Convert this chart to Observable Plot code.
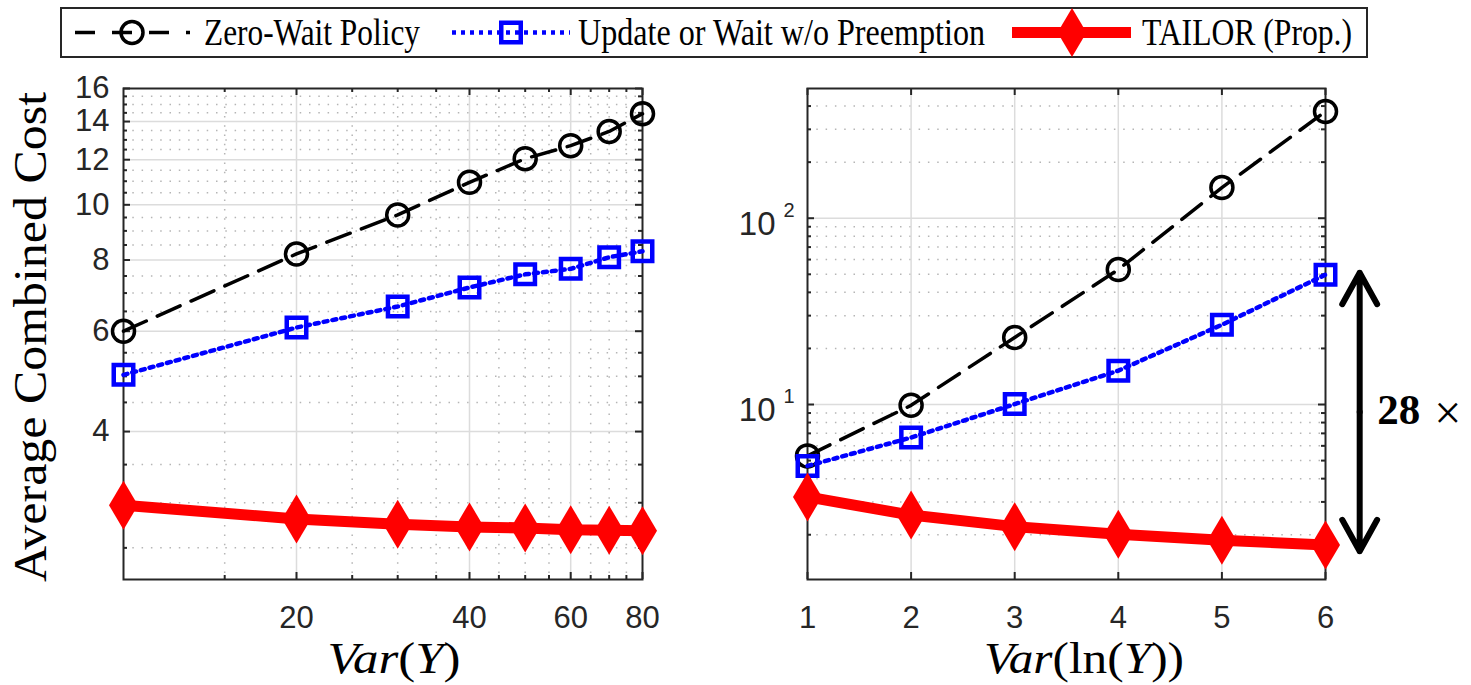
<!DOCTYPE html>
<html><head><meta charset="utf-8">
<script src="https://cdn.jsdelivr.net/npm/d3@7"></script>
<script src="https://cdn.jsdelivr.net/npm/@observablehq/plot@0.6"></script>
<style>
html,body{margin:0;padding:0;background:#fff;}
#wrap{position:relative;width:1471px;height:685px;overflow:hidden;background:#fff;}
#wrap > svg{position:absolute;}
</style></head><body><div id="wrap"></div>
<script>
// ---------- data ----------
const seriesNames = ["Zero-Wait Policy", "Update or Wait w/o Preemption", "TAILOR (Prop.)"];

// left panel: x = Var(Y)
const varY = [10, 20, 30, 40, 50, 60, 70, 80];
const zeroWaitLeft = [6.0, 8.2, 9.6, 10.95, 12.05, 12.7, 13.45, 14.45];
const updateWaitLeft = [5.03, 6.09, 6.63, 7.16, 7.55, 7.72, 8.09, 8.29];
const tailorLeft = [2.97, 2.81, 2.75, 2.72, 2.71, 2.69, 2.685, 2.68];
const leftXTicks = [20, 40, 60, 80];
const leftXMinor = [15, 25, 30, 35, 45, 50, 55, 65, 70, 75];
const leftYTicks = [4, 6, 8, 10, 12, 14, 16];
const leftYMinor = [2.5, 3, 3.5, 4.5, 5, 5.5, 6.5, 7, 7.5, 8.5, 9, 9.5, 10.5, 11, 11.5, 12.5, 13, 13.5, 14.5, 15, 15.5];
const leftXDomain = [10, 80];
const leftYDomain = [2.2, 16];

// right panel: x = Var(ln(Y))
const varLnY = [1, 2, 3, 4, 5, 6];
const zeroWaitRight = [5.3, 9.9, 22.9, 53, 146, 374];
const updateWaitRight = [4.68, 6.65, 10.05, 15.2, 26.8, 49.8];
const tailorRight = [3.19, 2.55, 2.21, 2.01, 1.87, 1.76];
const rightXTicks = [1, 2, 3, 4, 5, 6];
const rightYTicks = [10, 100];
const rightYMinor = [2, 3, 4, 5, 6, 7, 8, 9, 20, 30, 40, 50, 60, 70, 80, 90, 200, 300, 400];
const rightXDomain = [1, 6];
const rightYDomain = [1.15, 497];

// annotation: double arrow and ratio label
const arrowX = [6.33];
const arrowEnds = [51, 1.63];
const ratioLabel = ["28", "×"];
const ratioX = [6.5, 7.18];
const ratioY = [9.37, 8.95];

// ---------- styles ----------
const AX = "#262626";
const GRID = "#dcdcdc";
const MINOR = "#b5b5b5";
const wrap = document.getElementById("wrap");

const tallDiamond = {draw(ctx) {ctx.moveTo(0, -24.5); ctx.lineTo(14.5, 0); ctx.lineTo(0, 24.5); ctx.lineTo(-14.5, 0); ctx.closePath();}};

// ---------- legend ----------
const lg = d3.create("svg").attr("width", 1471).attr("height", 60).style("left", "0px").style("top", "0px");
lg.append("rect").attr("x", 61).attr("y", 8).attr("width", 1306).attr("height", 49)
  .attr("fill", "white").attr("stroke", AX).attr("stroke-width", 2);
const ly = 32.5;
lg.append("line").attr("x1", 75).attr("x2", 190).attr("y1", ly).attr("y2", ly)
  .attr("stroke", "black").attr("stroke-width", 3.5).attr("stroke-dasharray", "20,17");
lg.append("circle").attr("cx", 132).attr("cy", ly).attr("r", 11).attr("fill", "none").attr("stroke", "black").attr("stroke-width", 3.5);
lg.append("line").attr("x1", 452).attr("x2", 570).attr("y1", ly).attr("y2", ly)
  .attr("stroke", "#0000ff").attr("stroke-width", 4.5).attr("stroke-dasharray", "4,5");
lg.append("rect").attr("x", 511 - 9.75).attr("y", ly - 9.75).attr("width", 19.5).attr("height", 19.5)
  .attr("fill", "none").attr("stroke", "#0000ff").attr("stroke-width", 4.5);
lg.append("line").attr("x1", 1012).attr("x2", 1131).attr("y1", ly).attr("y2", ly)
  .attr("stroke", "#ff0000").attr("stroke-width", 11);
lg.append("path").attr("transform", `translate(1072,${ly})`).attr("d", "M0,-24.5L14.5,0L0,24.5L-14.5,0Z").attr("fill", "#ff0000");
const legText = [[204, 216], [578, 407], [1142, 210]];
seriesNames.forEach((s, i) => {
  lg.append("text").attr("x", legText[i][0]).attr("y", 45).attr("font-family", "Liberation Serif")
    .attr("font-size", 37).attr("fill", "black").attr("textLength", legText[i][1])
    .attr("lengthAdjust", "spacingAndGlyphs").text(s);
});
wrap.appendChild(lg.node());

// ---------- helper ----------
function panel({rows, width, height, mL, mR, mT, mB, xType, xDomain, yDomain, xTicks, xMinor, yMinor, xGrid, yGrid, yTickMarks, extra = [], yAxis}) {
  const iw = width - mL - mR, ih = height - mT - mB;
  const tk = {stroke: AX, strokeWidth: 2};
  return Plot.plot({
    width, height, marginLeft: mL, marginRight: mR, marginTop: mT, marginBottom: mB,
    x: {type: xType, domain: xDomain, label: null, axis: null},
    y: {type: "log", domain: yDomain, label: null, axis: null},
    style: {background: "transparent", fontFamily: "Liberation Sans", color: AX, overflow: "visible"},
    marks: [
      Plot.ruleX(xMinor, {stroke: MINOR, strokeWidth: 1.5, strokeDasharray: "1.5,7.8"}),
      Plot.ruleY(yMinor, {stroke: MINOR, strokeWidth: 1.5, strokeDasharray: "1.5,7.8"}),
      Plot.ruleX(xGrid, {stroke: GRID, strokeWidth: 1.5}),
      Plot.ruleY(yGrid, {stroke: GRID, strokeWidth: 1.5}),
      Plot.frame({stroke: AX, strokeWidth: 2}),
      Plot.tickX(xTicks, {...tk, insetTop: ih - 7}),
      Plot.tickX(xTicks, {...tk, insetBottom: ih - 7}),
      Plot.tickX(xMinor, {...tk, insetTop: ih - 4}),
      Plot.tickX(xMinor, {...tk, insetBottom: ih - 4}),
      Plot.tickY(yTickMarks, {...tk, insetRight: iw - 7}),
      Plot.tickY(yTickMarks, {...tk, insetLeft: iw - 7}),
      Plot.tickY(yMinor, {...tk, insetRight: iw - 4}),
      Plot.tickY(yMinor, {...tk, insetLeft: iw - 4}),
      Plot.axisX({ticks: xTicks, tickSize: 0, tickPadding: 26, fontSize: 31, fill: AX, tickFormat: d => `${d}`, label: null}),
      yAxis,
      Plot.line(rows, {x: "x", y: "zw", stroke: "black", strokeWidth: 3.5, strokeDasharray: "25,12"}),
      Plot.dot(rows, {x: "x", y: "zw", r: 11, stroke: "black", strokeWidth: 3.5, fill: "none"}),
      Plot.line(rows, {x: "x", y: "uw", stroke: "#0000ff", strokeWidth: 4.5, strokeDasharray: "4,5"}),
      Plot.dot(rows, {x: "x", y: "uw", symbol: "square", r: 11, stroke: "#0000ff", strokeWidth: 4.5, fill: "none"}),
      Plot.line(rows, {x: "x", y: "tl", stroke: "#ff0000", strokeWidth: 11}),
      Plot.dot(rows, {x: "x", y: "tl", symbol: tallDiamond, r: 5, fill: "#ff0000", stroke: "none"}),
      ...extra
    ]
  });
}

// ---------- left panel ----------
const leftRows = varY.map((x, i) => ({x, zw: zeroWaitLeft[i], uw: updateWaitLeft[i], tl: tailorLeft[i]}));
const left = panel({
  rows: leftRows, width: 700, height: 625, mL: 123, mR: 58, mT: 28, mB: 106,
  xType: "log", xDomain: leftXDomain, yDomain: leftYDomain,
  xTicks: leftXTicks, xMinor: leftXMinor, yMinor: leftYMinor,
  xGrid: leftXTicks.filter(d => d < leftXDomain[1]), yGrid: leftYTicks.filter(d => d < leftYDomain[1]),
  yTickMarks: leftYTicks,
  yAxis: Plot.axisY({ticks: leftYTicks, tickSize: 0, tickPadding: 14, fontSize: 31, fill: AX, tickFormat: d => `${d}`, label: null})
});
left.style.left = "0px"; left.style.top = "60px";
wrap.appendChild(left);
const sl = d3.select(left);
sl.append("text").attr("transform", "translate(46,277) rotate(-90)").attr("text-anchor", "middle")
  .attr("font-family", "Liberation Serif").attr("font-size", 46).attr("fill", "black")
  .attr("textLength", 490).attr("lengthAdjust", "spacingAndGlyphs").text("Average Combined Cost");
const xl = sl.append("text").attr("x", 394).attr("y", 613).attr("text-anchor", "middle")
  .attr("font-family", "Liberation Serif").attr("font-size", 44).attr("fill", "black")
  .attr("textLength", 133).attr("lengthAdjust", "spacingAndGlyphs");
xl.append("tspan").attr("font-style", "italic").text("Var");
xl.append("tspan").text("(");
xl.append("tspan").attr("font-style", "italic").text("Y");
xl.append("tspan").text(")");

// ---------- right panel ----------
const rightRows = varLnY.map((x, i) => ({x, zw: zeroWaitRight[i], uw: updateWaitRight[i], tl: tailorRight[i]}));
const mid = Math.sqrt(arrowEnds[0] * arrowEnds[1]);
const arrowRows = arrowEnds.map(e => ({x: arrowX[0], from: mid, to: e}));
const ratioRows = ratioLabel.map((t, i) => ({t, x: ratioX[i], y: ratioY[i]}));
const right = panel({
  rows: rightRows, width: 771, height: 625, mL: 107, mR: 146, mT: 28, mB: 106,
  xType: "linear", xDomain: rightXDomain, yDomain: rightYDomain,
  xTicks: rightXTicks, xMinor: [], yMinor: rightYMinor,
  xGrid: rightXTicks.filter(d => d > rightXDomain[0] && d < rightXDomain[1]), yGrid: rightYTicks,
  yTickMarks: rightYTicks,
  yAxis: [
    Plot.text(rightYTicks, {y: d => d, frameAnchor: "left", text: () => "10", textAnchor: "end", dx: -32, dy: 6, fontSize: 33, fill: AX, fontFamily: "Liberation Sans"}),
    Plot.text(rightYTicks, {y: d => d, frameAnchor: "left", text: d => `${Math.round(Math.log10(d))}`, textAnchor: "end", dx: -13, dy: -8, fontSize: 20, fill: AX, fontFamily: "Liberation Sans"})
  ],
  extra: [
    Plot.arrow(arrowRows, {x1: "x", x2: "x", y1: "from", y2: "to", stroke: "black", strokeWidth: 6, headLength: 9, headAngle: 58}),
    Plot.text(ratioRows.slice(0, 1), {x: "x", y: "y", text: "t", textAnchor: "start", fontSize: 43, fontWeight: "bold", fill: "black", fontFamily: "Liberation Serif"}),
    Plot.text(ratioRows.slice(1), {x: "x", y: "y", text: "t", textAnchor: "middle", fontSize: 48, fill: "black", fontFamily: "Liberation Serif"})
  ]
});
right.style.left = "700px"; right.style.top = "60px";
wrap.appendChild(right);
const sr = d3.select(right);
const xr = sr.append("text").attr("x", 384).attr("y", 613).attr("text-anchor", "middle")
  .attr("font-family", "Liberation Serif").attr("font-size", 44).attr("fill", "black")
  .attr("textLength", 200).attr("lengthAdjust", "spacingAndGlyphs");
xr.append("tspan").attr("font-style", "italic").text("Var");
xr.append("tspan").text("(ln(");
xr.append("tspan").attr("font-style", "italic").text("Y");
xr.append("tspan").text("))");
</script>
</body></html>
